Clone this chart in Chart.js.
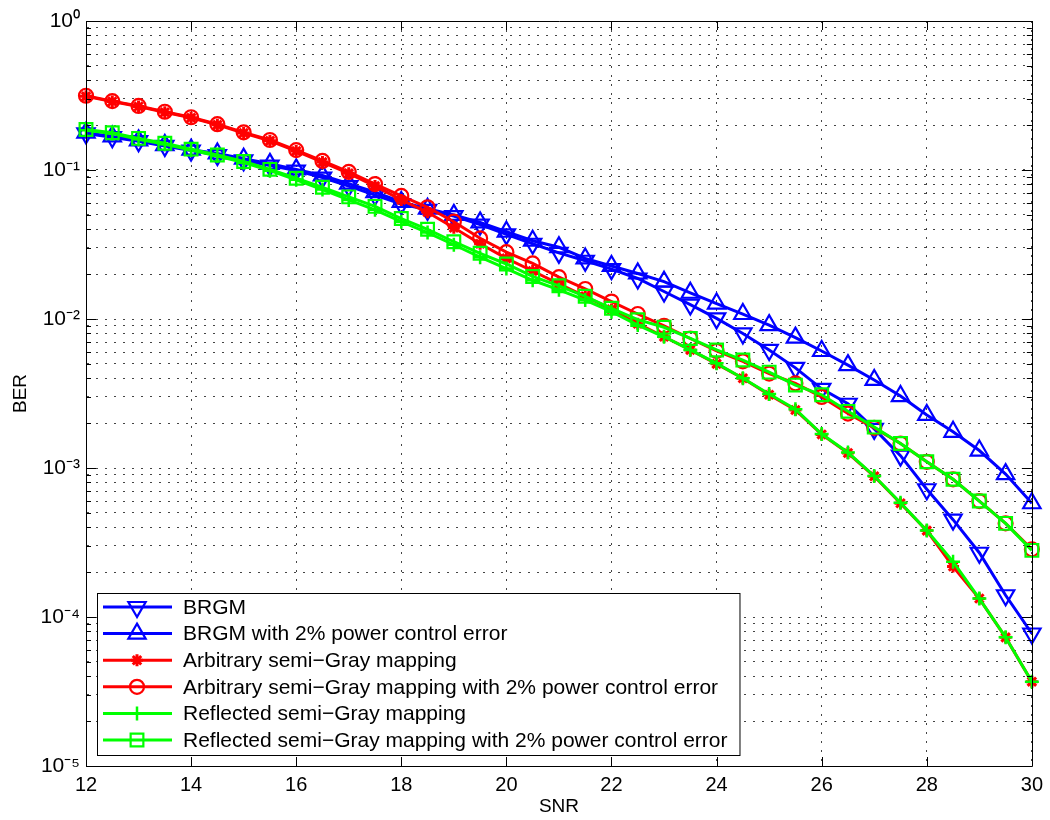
<!DOCTYPE html>
<html>
<head>
<meta charset="utf-8">
<title>BER vs SNR</title>
<script src="https://cdn.jsdelivr.net/npm/chart.js@4"></script>
<style>
  html, body { margin: 0; padding: 0; background: #fff; }
  canvas { display: block; }
</style>
</head>
<body>
<canvas id="ber" width="1050" height="820"></canvas>
<script>
// SNR values (x axis)
const snr = [12, 12.5, 13, 13.5, 14, 14.5, 15, 15.5, 16, 16.5, 17, 17.5, 18, 18.5, 19, 19.5, 20, 20.5,
  21, 21.5, 22, 22.5, 23, 23.5, 24, 24.5, 25, 25.5, 26, 26.5, 27, 27.5, 28, 28.5, 29, 29.5, 30];

// BER per series
const brgm = [0.176, 0.166, 0.156, 0.145, 0.135, 0.126, 0.116, 0.107, 0.099, 0.089, 0.078, 0.068, 0.059,
  0.054, 0.049, 0.043, 0.037, 0.032, 0.0278, 0.0246, 0.0216, 0.0187, 0.0153, 0.0125, 0.0101, 0.0080,
  0.0062, 0.0047, 0.0034, 0.0027, 0.00183, 0.00121, 0.00072, 0.00045, 0.00027, 0.000140, 0.0000775];
const brgmPce = [0.178, 0.168, 0.158, 0.147, 0.137, 0.129, 0.119, 0.110, 0.101, 0.092, 0.081, 0.071, 0.061,
  0.055, 0.050, 0.0445, 0.0385, 0.0335, 0.0303, 0.0255, 0.0227, 0.0202, 0.0178, 0.0150, 0.0127, 0.0108,
  0.0091, 0.0075, 0.0061, 0.0049, 0.0039, 0.00304, 0.00227, 0.00175, 0.00131, 0.00091, 0.00058];
const arbitrary = [0.312, 0.288, 0.267, 0.244, 0.224, 0.201, 0.177, 0.157, 0.134, 0.113, 0.095, 0.078, 0.063,
  0.052, 0.041, 0.032, 0.0255, 0.0210, 0.0172, 0.0142, 0.0116, 0.0093, 0.0076, 0.0062, 0.0050, 0.0040,
  0.0031, 0.00245, 0.00168, 0.00126, 0.00088, 0.00058, 0.00038, 0.000218, 0.000133, 0.000073, 0.0000368];
const arbitraryPce = [0.315, 0.29, 0.269, 0.246, 0.226, 0.203, 0.179, 0.159, 0.136, 0.115, 0.097, 0.0805, 0.067,
  0.0562, 0.045, 0.0348, 0.0281, 0.0236, 0.0191, 0.0159, 0.0131, 0.0108, 0.0090, 0.0074, 0.0061, 0.0052,
  0.0043, 0.0037, 0.0030, 0.00232, 0.00186, 0.00146, 0.0011, 0.00084, 0.0006, 0.000425, 0.000285];
const reflected = [0.185, 0.176, 0.161, 0.149, 0.136, 0.124, 0.112, 0.099, 0.086, 0.074, 0.063, 0.054, 0.045,
  0.038, 0.0315, 0.026, 0.0218, 0.0182, 0.0157, 0.0134, 0.0112, 0.0091, 0.0076, 0.0062, 0.00504, 0.0040,
  0.00314, 0.00248, 0.00169, 0.00127, 0.000884, 0.000585, 0.00038, 0.000235, 0.000133, 0.0000731, 0.0000368];
const reflectedPce = [0.187, 0.178, 0.163, 0.151, 0.138, 0.126, 0.114, 0.101, 0.088, 0.0765, 0.066, 0.057, 0.0472,
  0.040, 0.033, 0.0276, 0.0234, 0.0193, 0.0167, 0.0142, 0.0118, 0.0099, 0.0088, 0.0074, 0.0062, 0.0053,
  0.0044, 0.0036, 0.0031, 0.0024, 0.00188, 0.00146, 0.0011, 0.00084, 0.0006, 0.000425, 0.00028];

const seriesNames = [
  'BRGM',
  'BRGM with 2% power control error',
  'Arbitrary semi\u2212Gray mapping',
  'Arbitrary semi\u2212Gray mapping with 2% power control error',
  'Reflected semi\u2212Gray mapping',
  'Reflected semi\u2212Gray mapping with 2% power control error'
];
const seriesValues = [brgm, brgmPce, arbitrary, arbitraryPce, reflected, reflectedPce];

const xTicks = [12, 14, 16, 18, 20, 22, 24, 26, 28, 30];
const yDecades = [-5, -4, -3, -2, -1, 0];

// look of each line (MATLAB-ish markers)
const looks = [
  { color: '#0000ff', pointStyle: 'triangle', rotation: 180, radius: 10, edge: 2.2 },
  { color: '#0000ff', pointStyle: 'triangle', rotation: 0, radius: 10, edge: 2.2 },
  { color: '#ff0000', pointStyle: 'star', rotation: 0, radius: 6, edge: 3 },
  { color: '#ff0000', pointStyle: 'circle', rotation: 0, radius: 7, edge: 2.2 },
  { color: '#00ff00', pointStyle: 'cross', rotation: 0, radius: 7, edge: 2.5 },
  { color: '#00ff00', pointStyle: 'rect', rotation: 0, radius: 9, edge: 2.2 }
];

const FONT = "'Liberation Sans', Arial, Helvetica, sans-serif";
const sup = { '-': '\u207B', '0': '\u2070', '1': '\u00B9', '2': '\u00B2', '3': '\u00B3', '4': '\u2074', '5': '\u2075' };
const powLabel = e => '10' + String(e).split('').map(c => sup[c]).join('');
const isDecade = v => Math.abs(Math.log10(v) - Math.round(Math.log10(v))) < 1e-9;

// box, inward ticks and the legend inside the axes
const matlabFrame = {
  id: 'matlabFrame',
  afterDraw(chart) {
    const { ctx, chartArea: a, scales: { x, y } } = chart;
    ctx.save();
    ctx.strokeStyle = '#000';
    ctx.lineWidth = 1;
    ctx.beginPath();
    ctx.rect(Math.round(a.left) + 0.5, Math.round(a.top) + 0.5,
      Math.round(a.right - a.left), Math.round(a.bottom - a.top));
    x.ticks.forEach(t => {
      const px = Math.round(x.getPixelForValue(t.value)) + 0.5;
      ctx.moveTo(px, a.bottom); ctx.lineTo(px, a.bottom - 9);
      ctx.moveTo(px, a.top); ctx.lineTo(px, a.top + 9);
    });
    y.ticks.forEach(t => {
      const py = Math.round(y.getPixelForValue(t.value)) + 0.5;
      const len = isDecade(t.value) ? 10 : 5;
      ctx.moveTo(a.left, py); ctx.lineTo(a.left + len, py);
      ctx.moveTo(a.right, py); ctx.lineTo(a.right - len, py);
    });
    ctx.stroke();

    // legend
    ctx.font = '21px ' + FONT;
    const textW = Math.max(...seriesNames.map(n => ctx.measureText(n).width));
    const rowH = 26.6;
    const left = Math.round(a.left) + 11;
    const bottom = Math.round(a.bottom) - 11;
    const height = 14 + 5 * rowH + 15;
    const top = bottom - height;
    const width = 86 + textW + 12;
    ctx.fillStyle = '#fff';
    ctx.fillRect(left, top, width, height);
    ctx.strokeStyle = '#000';
    ctx.lineWidth = 1;
    ctx.strokeRect(left + 0.5, top + 0.5, width, height);
    ctx.textBaseline = 'middle';
    ctx.textAlign = 'left';
    seriesNames.forEach((name, i) => {
      const ry = top + 14 + i * rowH;
      const lk = looks[i];
      ctx.strokeStyle = lk.color;
      ctx.lineWidth = 3;
      ctx.beginPath();
      ctx.moveTo(left + 6, ry); ctx.lineTo(left + 75, ry);
      ctx.stroke();
      ctx.lineWidth = lk.edge;
      ctx.fillStyle = 'rgba(0,0,0,0)';
      Chart.helpers.drawPoint(ctx, {
        pointStyle: lk.pointStyle, rotation: lk.rotation, radius: lk.radius, borderWidth: lk.edge
      }, left + 40, ry);
      ctx.fillStyle = '#000';
      ctx.fillText(name, left + 86, ry + 1);
    });
    ctx.restore();
  }
};

new Chart(document.getElementById('ber'), {
  type: 'line',
  data: {
    datasets: seriesValues.map((vals, i) => ({
      label: seriesNames[i],
      data: snr.map((s, k) => ({ x: s, y: vals[k] })),
      borderColor: looks[i].color,
      backgroundColor: looks[i].color,
      borderWidth: 3,
      pointStyle: looks[i].pointStyle,
      pointRotation: looks[i].rotation,
      pointRadius: looks[i].radius,
      pointBorderWidth: looks[i].edge,
      pointBorderColor: looks[i].color,
      pointBackgroundColor: 'rgba(0,0,0,0)',
      tension: 0,
      clip: false,
      order: seriesValues.length - i
    }))
  },
  options: {
    responsive: false,
    animation: false,
    devicePixelRatio: 1,
    layout: { padding: { top: 21, right: 18, left: 0, bottom: 0 } },
    plugins: { legend: { display: false }, tooltip: { enabled: false } },
    scales: {
      x: {
        type: 'linear',
        min: 12,
        max: 30,
        afterBuildTicks: s => { s.ticks = xTicks.map(v => ({ value: v })); },
        afterFit: s => { s.height = 54; },
        ticks: { color: '#000', font: { family: FONT, size: 20 }, padding: 7, maxRotation: 0 },
        grid: { color: '#444', lineWidth: 1, drawTicks: false },
        border: { display: true, color: '#000', width: 1, dash: [2, 7] },
        title: { display: true, text: 'SNR', color: '#000', font: { family: FONT, size: 19 }, padding: { top: 0, bottom: 2 } }
      },
      y: {
        type: 'logarithmic',
        min: 1e-5,
        max: 1,
        afterBuildTicks: s => {
          const t = [];
          yDecades.forEach(e => {
            for (let m = 1; m <= 9; m++) {
              if (e === 0 && m > 1) break;
              t.push({ value: +(m * Math.pow(10, e)).toPrecision(6) });
            }
          });
          s.ticks = t;
        },
        afterFit: s => { s.width = 86; },
        ticks: {
          autoSkip: false,
          color: '#000',
          font: { family: FONT, size: 21 },
          padding: 6,
          callback: v => isDecade(v) ? powLabel(Math.round(Math.log10(v))) : ''
        },
        grid: { color: '#444', lineWidth: 1, drawTicks: false },
        border: { display: true, color: '#000', width: 1, dash: [2, 7] },
        title: { display: true, text: 'BER', color: '#000', font: { family: FONT, size: 19 }, padding: { top: 9, bottom: 0 } }
      }
    }
  },
  plugins: [matlabFrame]
});
</script>
</body>
</html>
